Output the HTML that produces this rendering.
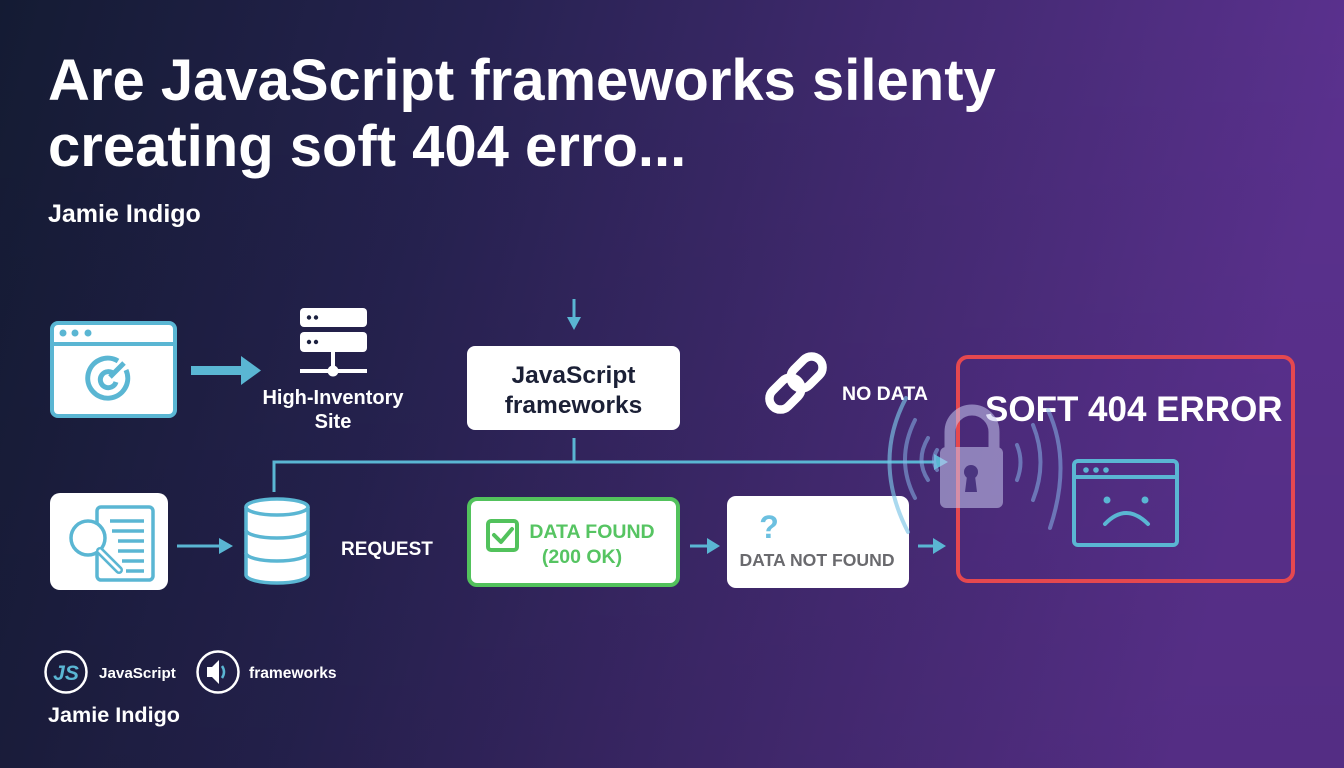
<!DOCTYPE html>
<html><head><meta charset="utf-8"><style>
html,body{margin:0;padding:0;width:1344px;height:768px;overflow:hidden;background:#1a1d3a}
svg{display:block}
text{font-family:"Liberation Sans",sans-serif;font-weight:bold}
</style></head><body>
<svg width="1344" height="768" viewBox="0 0 1344 768" xmlns="http://www.w3.org/2000/svg">
<defs>
<linearGradient id="bg" x1="0" y1="0" x2="1" y2="0.15">
<stop offset="0" stop-color="#141b33"/>
<stop offset="0.35" stop-color="#262250"/>
<stop offset="0.65" stop-color="#40296e"/>
<stop offset="1" stop-color="#5b318f"/>
</linearGradient>
<linearGradient id="shade" x1="0" y1="0" x2="0" y2="1">
<stop offset="0" stop-color="#000" stop-opacity="0"/>
<stop offset="1" stop-color="#000" stop-opacity="0.08"/>
</linearGradient>
</defs>
<rect width="1344" height="768" fill="url(#bg)"/>
<rect width="1344" height="768" fill="url(#shade)"/>

<!-- Title -->
<text x="48" y="100" font-size="58" fill="#ffffff">Are JavaScript frameworks silenty</text>
<text x="48" y="166" font-size="58" fill="#ffffff">creating soft 404 erro...</text>
<text x="48" y="222" font-size="25" fill="#ffffff">Jamie Indigo</text>

<!-- Browser target icon -->
<rect x="52" y="323" width="123" height="93" rx="6" fill="#fff" stroke="#5ab6d3" stroke-width="4"/>
<line x1="52" y1="344" x2="175" y2="344" stroke="#5ab6d3" stroke-width="4"/>
<circle cx="63" cy="333" r="3.5" fill="#5ab6d3"/>
<circle cx="75" cy="333" r="3.5" fill="#5ab6d3"/>
<circle cx="88" cy="333" r="3.5" fill="#5ab6d3"/>
<path d="M118 361 A20 20 0 1 0 126 370" fill="none" stroke="#5ab6d3" stroke-width="5"/>
<path d="M114 374 A8 8 0 1 0 116 382" fill="none" stroke="#5ab6d3" stroke-width="5"/>
<line x1="110" y1="377" x2="124" y2="363" stroke="#5ab6d3" stroke-width="5"/>

<!-- Thick arrow -->
<rect x="191" y="366" width="52" height="9" fill="#5ab6d3"/>
<polygon points="241,356 261,370.5 241,385" fill="#5ab6d3"/>

<!-- Server icon -->
<rect x="300" y="308" width="67" height="19" rx="4" fill="#fff"/>
<rect x="300" y="332" width="67" height="20" rx="4" fill="#fff"/>
<circle cx="309" cy="317.5" r="2.2" fill="#1c2140"/>
<circle cx="316" cy="317.5" r="2.2" fill="#1c2140"/>
<circle cx="309" cy="342" r="2.2" fill="#1c2140"/>
<circle cx="316" cy="342" r="2.2" fill="#1c2140"/>
<rect x="331" y="352" width="4" height="18" fill="#fff"/>
<rect x="300" y="369" width="67" height="4" fill="#fff"/>
<circle cx="333" cy="371" r="5.5" fill="#fff"/>
<text x="333" y="404" font-size="20" fill="#fff" text-anchor="middle">High-Inventory</text>
<text x="333" y="428" font-size="20" fill="#fff" text-anchor="middle">Site</text>

<!-- down arrow -->
<line x1="574" y1="299" x2="574" y2="322" stroke="#5ab6d3" stroke-width="3"/>
<polygon points="567,317 574,330 581,317" fill="#5ab6d3"/>

<!-- JS frameworks box -->
<rect x="467" y="346" width="213" height="84" rx="8" fill="#fff"/>
<text x="573.5" y="383" font-size="24.5" fill="#1b2036" text-anchor="middle">JavaScript</text>
<text x="573.5" y="413" font-size="24.5" fill="#1b2036" text-anchor="middle">frameworks</text>

<!-- connectors -->
<line x1="574" y1="438" x2="574" y2="462" stroke="#5ab6d3" stroke-width="3"/>
<path d="M274 492 L274 462 L938 462" fill="none" stroke="#5ab6d3" stroke-width="3"/>
<polygon points="934,454 948,462 934,470" fill="#5ab6d3"/>

<!-- chain link -->
<g transform="translate(796,383) rotate(-45)" fill="none" stroke="#fff" stroke-width="8.5">
<rect x="-3" y="-11" width="36" height="22" rx="11"/>
<rect x="-33" y="-11" width="36" height="22" rx="11"/>
</g>
<text x="842" y="400" font-size="19.5" fill="#fff">NO DATA</text>

<!-- SOFT 404 box -->
<rect x="958" y="357" width="335" height="224" rx="10" fill="#5a3190" fill-opacity="0.15" stroke="#e5484f" stroke-width="4"/>
<text x="985" y="421" font-size="35" fill="#fff">SOFT 404 ERROR</text>
<rect x="1074" y="461" width="103" height="84" rx="4" fill="none" stroke="#5ab6d3" stroke-width="4"/>
<line x1="1074" y1="477" x2="1177" y2="477" stroke="#5ab6d3" stroke-width="4"/>
<circle cx="1086" cy="470" r="2.8" fill="#5ab6d3"/>
<circle cx="1096" cy="470" r="2.8" fill="#5ab6d3"/>
<circle cx="1106" cy="470" r="2.8" fill="#5ab6d3"/>
<circle cx="1107" cy="500" r="3.5" fill="#5ab6d3"/>
<circle cx="1145" cy="500" r="3.5" fill="#5ab6d3"/>
<path d="M1105 524 Q1126 502 1148 524" fill="none" stroke="#5ab6d3" stroke-width="4" stroke-linecap="round"/>

<!-- bottom row -->
<rect x="50" y="493" width="118" height="97" rx="10" fill="#fff"/>
<rect x="97" y="507" width="56" height="73" rx="4" fill="none" stroke="#5ab6d3" stroke-width="3.5"/>
<g stroke="#5ab6d3" stroke-width="3.5">
<line x1="110" y1="521" x2="144" y2="521"/>
<line x1="112" y1="531" x2="144" y2="531"/>
<line x1="118" y1="541" x2="144" y2="541"/>
<line x1="118" y1="551" x2="144" y2="551"/>
<line x1="122" y1="561" x2="144" y2="561"/>
<line x1="126" y1="571" x2="144" y2="571"/>
</g>
<circle cx="88" cy="538" r="17" fill="#fff" stroke="#5ab6d3" stroke-width="3.5"/>
<line x1="100" y1="551" x2="119" y2="570" stroke="#5ab6d3" stroke-width="8" stroke-linecap="round"/>
<line x1="100" y1="551" x2="119" y2="570" stroke="#fff" stroke-width="3" stroke-linecap="round"/>

<line x1="177" y1="546" x2="222" y2="546" stroke="#5ab6d3" stroke-width="3"/>
<polygon points="219,538 233,546 219,554" fill="#5ab6d3"/>

<!-- database -->
<path d="M246 507 L246 575 A31 8 0 0 0 308 575 L308 507" fill="#fff" stroke="#5ab6d3" stroke-width="3.5"/>
<ellipse cx="277" cy="507" rx="31" ry="8" fill="#fff" stroke="#5ab6d3" stroke-width="3.5"/>
<path d="M246 530 A31 8 0 0 0 308 530" fill="none" stroke="#5ab6d3" stroke-width="3.5"/>
<path d="M246 553 A31 8 0 0 0 308 553" fill="none" stroke="#5ab6d3" stroke-width="3.5"/>

<text x="341" y="555" font-size="19" fill="#fff">REQUEST</text>

<rect x="469" y="499" width="209" height="86" rx="8" fill="#fff" stroke="#52c25c" stroke-width="4"/>
<rect x="488" y="521" width="29" height="29" rx="3" fill="none" stroke="#52c25c" stroke-width="4"/>
<path d="M494 535 L501 542 L512 529" fill="none" stroke="#52c25c" stroke-width="4" stroke-linecap="round" stroke-linejoin="round"/>
<text x="592" y="538" font-size="19.5" fill="#56c462" text-anchor="middle">DATA FOUND</text>
<text x="582" y="563" font-size="19.5" fill="#56c462" text-anchor="middle">(200 OK)</text>

<line x1="690" y1="546" x2="710" y2="546" stroke="#5ab6d3" stroke-width="3"/>
<polygon points="707,538 720,546 707,554" fill="#5ab6d3"/>

<rect x="727" y="496" width="182" height="92" rx="9" fill="#fff"/>
<text x="769" y="538" font-size="32" fill="#6cc0e0" text-anchor="middle">?</text>
<text x="817" y="566" font-size="17.6" fill="#6a6a6e" text-anchor="middle">DATA NOT FOUND</text>

<line x1="918" y1="546" x2="936" y2="546" stroke="#5ab6d3" stroke-width="3"/>
<polygon points="933,538 946,546 933,554" fill="#5ab6d3"/>

<!-- signal arcs -->
<g fill="none" stroke="#86b4e8" stroke-opacity="0.55" stroke-width="4" stroke-linecap="round">
<path d="M906 398 Q872 462 908 532" stroke="#7cc4e6" stroke-opacity="0.65"/>
<path d="M915 420 Q895 460 915 498"/>
<path d="M928 438 Q915 460 928 480"/>
<path d="M937 450 Q931 460 937 470"/>
<path d="M1017 445 Q1024 462 1017 480"/>
<path d="M1033 425 Q1048 462 1033 500"/>
<path d="M1048 410 Q1072 462 1050 528"/>
</g>
<!-- lock -->
<g opacity="0.55">
<path d="M950 452 L950 432 A22 22 0 0 1 994 432 L994 452" fill="none" stroke="#c8c8f0" stroke-width="11"/>
<rect x="940" y="447" width="63" height="61" rx="6" fill="#c8c8f0"/>
</g>
<circle cx="971" cy="472" r="7" fill="#4a3580"/>
<polygon points="967,476 975,476 977,492 965,492" fill="#4a3580"/>

<!-- footer -->
<circle cx="66" cy="672" r="20.5" fill="none" stroke="#fff" stroke-width="2.5"/>
<text x="66" y="680" font-size="21" fill="#5ab6d3" text-anchor="middle" font-style="italic">JS</text>
<text x="99" y="678" font-size="15.2" fill="#fff">JavaScript</text>
<circle cx="218" cy="672" r="20.5" fill="none" stroke="#fff" stroke-width="2.5"/>
<polygon points="207,667 212,667 219,660 219,684 212,677 207,677" fill="#fff"/>
<path d="M222 666 Q226 672 222 678" fill="none" stroke="#5ab6d3" stroke-width="2.5"/>
<text x="249" y="678" font-size="15.6" fill="#fff">frameworks</text>
<text x="48" y="722" font-size="21.6" fill="#fff">Jamie Indigo</text>
</svg>
</body></html>
